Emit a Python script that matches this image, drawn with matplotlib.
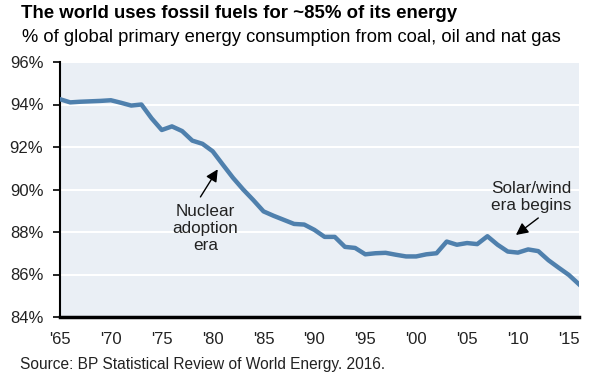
import numpy as np
import matplotlib.pyplot as plt

plt.rcParams['font.family'] = ['Liberation Sans', 'DejaVu Sans']

# data
years = list(range(1965, 2017))
fossil_share = [
    94.25, 94.10, 94.13, 94.15, 94.17, 94.20, 94.08, 93.95, 94.00, 93.35,
    92.80, 92.97, 92.75, 92.30, 92.15, 91.80, 91.17, 90.55, 90.00, 89.50,
    88.97, 88.76, 88.57, 88.38, 88.35, 88.10, 87.77, 87.77, 87.30, 87.25,
    86.95, 87.00, 87.02, 86.93, 86.85, 86.85, 86.95, 87.00, 87.55, 87.40,
    87.48, 87.43, 87.80, 87.40, 87.08, 87.03, 87.18, 87.10, 86.67, 86.32,
    85.98, 85.54,
]
tick_years = [1965, 1970, 1975, 1980, 1985, 1990, 1995, 2000, 2005, 2010, 2015]
tick_labels = ["'65", "'70", "'75", "'80", "'85", "'90", "'95", "'00", "'05", "'10", "'15"]
y_ticks = [84, 86, 88, 90, 92, 94, 96]

W, H = 589, 380
fig = plt.figure(figsize=(W / 100, H / 100), dpi=100)
fig.patch.set_facecolor('white')
ax = fig.add_axes([60 / W, 1 - 317 / H, (579 - 60) / W, (317 - 62) / H])
ax.set_facecolor('#eaeff5')

for v in y_ticks[1:]:
    ax.axhline(v, color='white', lw=1.5, zorder=1)

ax.plot(years, fossil_share, color='#4f80ad', lw=3.2, zorder=3, solid_joinstyle='round')

ax.set_xlim(1965, 2016)
ax.set_ylim(84, 96)
ax.set_xticks(tick_years)
ax.set_xticklabels(tick_labels)
ax.set_yticks(y_ticks)
ax.set_yticklabels([f'{v}%' for v in y_ticks])
ax.tick_params(axis='both', labelsize=12, colors='#222222')
ax.tick_params(axis='x', length=0, pad=11)
ax.tick_params(axis='y', length=5, width=1.2, direction='out', pad=7, color='black')

for s in ['top', 'right']:
    ax.spines[s].set_visible(False)
ax.spines['left'].set_linewidth(1.5)
ax.spines['bottom'].set_linewidth(2.5)

arrow = dict(arrowstyle='-|>', color='black', lw=1, mutation_scale=18, shrinkA=0, shrinkB=0)
ax.text(1979.3, 89.3, 'Nuclear\nadoption\nera', ha='center', va='top', fontsize=12.3,
        linespacing=1.15, color='#222222')
ax.annotate('', xy=(1980.5, 90.95), xytext=(1978.8, 89.65), arrowprops=arrow)
ax.text(2011.3, 88.9, 'Solar/wind\nera begins', ha='center', va='bottom', fontsize=12.3,
        linespacing=1.15, color='#222222')
ax.annotate('', xy=(2009.8, 87.86), xytext=(2012.0, 88.66), arrowprops=arrow)

fig.text(21 / W, 1 - 14 / H, 'The world uses fossil fuels for ~85% of its energy',
         fontsize=13.4, fontweight='bold', va='center', ha='left')
fig.text(22 / W, 1 - 37 / H, '% of global primary energy consumption from coal, oil and nat gas',
         fontsize=13.2, va='center', ha='left')
fig.text(20 / W, 1 - 365 / H, 'Source: BP Statistical Review of World Energy. 2016.',
         fontsize=11.2, va='center', ha='left', color='#222222')

fig.savefig('out.png', dpi=100)
